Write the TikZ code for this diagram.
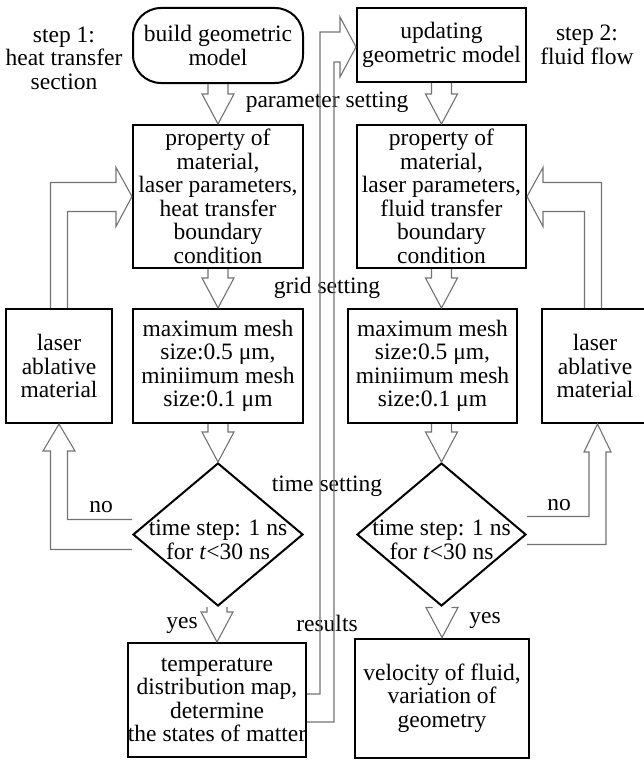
\documentclass[tikz,border=0pt]{standalone}
\usepackage{fontspec}
\setmainfont{Liberation Serif}
\usepackage{tikz}
\usetikzlibrary{shapes.geometric}
\newcommand\fs{\fontsize{23.5}{23.5}\selectfont}
\tikzset{box/.style={draw, line width=2pt, inner sep=0pt, align=center, font=\fs},
 term/.style={box, rounded corners=28pt},
 decision/.style={draw, diamond, line width=2pt, inner sep=0pt},
 hollow/.style={draw=black!55, line width=1.1pt, line join=miter},
 lbl/.style={align=center, inner sep=0pt, font=\fs},
 }
% fat hollow arrow pointing down, tip at #2
\newcommand\blockdown[2]{%
  \coordinate (bs) at (#2 |- #1);
  \draw [hollow] ([xshift=-10pt]bs) -- ([xshift=-10pt,yshift=30pt]#2) -- ([xshift=-16pt,yshift=30pt]#2) -- (#2)
    -- ([xshift=16pt,yshift=30pt]#2) -- ([xshift=10pt,yshift=30pt]#2) -- ([xshift=10pt]bs);}

\begin{document}
\begin{tikzpicture}[x=1pt,y=-1pt]
        \useasboundingbox (0,0) rectangle (644,760);
        % step 1
        \node [term, minimum width=170pt, minimum height=75pt] (start) at (218,45.5) {build geometric\\model};
        \node [box, minimum width=170pt, minimum height=143pt] (prop1) at (218,196.5) {property of\\material,\\laser parameters,\\heat transfer\\boundary\\condition};
        \node [box, minimum width=106pt, minimum height=114pt] (abl1) at (59,366) {laser\\ablative\\material};
        \node [box, minimum width=170pt, minimum height=114pt] (mesh1) at (218,366) {maximum mesh\\size:0.5 μm,\\miniimum mesh\\size:0.1 μm};
        \node [decision, minimum width=170pt, minimum height=143pt] (dec1) at (218,534.5) {};
        \node [lbl] (dec1t) at (218,540) {time step: 1 ns\\for \textit{t}<30 ns};
        \node [box, minimum width=174pt, minimum height=114pt] (res1) at (217,700) {temperature\\distribution map,\\determine\\the states of matter};
        % step 2
        \node [box, minimum width=169pt, minimum height=74pt] (upd) at (441.5,45) {updating\\geometric model};
        \node [box, minimum width=169pt, minimum height=143pt] (prop2) at (441.5,196.5) {property of\\material,\\laser parameters,\\fluid transfer\\boundary\\condition};
        \node [box, minimum width=169pt, minimum height=114pt] (mesh2) at (432.5,366) {maximum mesh\\size:0.5 μm,\\miniimum mesh\\size:0.1 μm};
        \node [box, minimum width=106pt, minimum height=114pt] (abl2) at (595,366) {laser\\ablative\\material};
        \node [decision, minimum width=169pt, minimum height=143pt] (dec2) at (441.5,534.5) {};
        \node [lbl] (dec2t) at (441.5,540) {time step: 1 ns\\for \textit{t}<30 ns};
        \node [box, minimum width=174pt, minimum height=119pt] (res2) at (442,698) {velocity of fluid,\\variation of\\geometry};
        % labels
        \node [lbl] (step1) at (64,58) {step 1:\\heat transfer\\section};
        \node [lbl] (step2) at (587,45) {step 2:\\fluid flow};
        \node [lbl] (lpar) at (327,102) {parameter setting};
        \node [lbl] (lgrid) at (327,288) {grid setting};
        \node [lbl] (ltime) at (327,486) {time setting};
        \node [lbl] (lres) at (327,623) {results};
        \node [lbl] (yes1) at (182,625) {yes};
        \node [lbl] (yes2) at (485,620) {yes};
        \node [lbl] (no1) at (101,507) {no};
        \node [lbl] (no2) at (559,505) {no};
        % straight arrows
        \blockdown{start.south}{prop1.north}
        \blockdown{prop1.south}{mesh1.north}
        \blockdown{mesh1.south}{dec1.north}
        \blockdown{dec1.south}{res1.north}
        \blockdown{upd.south}{prop2.north}
        \coordinate (m2top) at (prop2.south |- mesh2.north);
        \blockdown{prop2.south}{m2top}
        \blockdown{mesh2.south}{dec2.north}
        \blockdown{dec2.south}{res2.north}
        % loops
        \draw [hollow] ([xshift=-8.5pt]abl1.north) |- ([xshift=-16pt,yshift=14pt]prop1.west) -- ++(0,15pt) -- (prop1.west)
            -- ++(-16pt,-30pt) -- ++(0,15pt) -| ([xshift=8.5pt]abl1.north);
        \draw [hollow] ([yshift=15pt]dec1.west) -| ([xshift=8.5pt,yshift=-27pt]abl1.south) -- ++(7.5pt,0) -- (abl1.south)
            -- ++(-16pt,-27pt) -- ++(7.5pt,0) |- ([yshift=-15pt]dec1.west);
        \coordinate (a2) at ([xshift=-2pt]abl2.north);
        \draw [hollow] ([xshift=8.5pt]a2) |- ([xshift=16pt,yshift=14pt]prop2.east) -- ++(0,15pt) -- (prop2.east)
            -- ++(16pt,-30pt) -- ++(0,15pt) -| ([xshift=-8.5pt]a2);
        \coordinate (n2) at ([xshift=2.5pt]abl2.south);
        \draw [hollow] ([yshift=18pt]dec2.east) -| ([xshift=-8.5pt,yshift=-28pt]n2) -- ++(-5pt,0) -- (n2)
            -- ++(13.5pt,-28pt) -- ++(-5pt,0) |- ([yshift=-10pt]dec2.east);
        % results back to model
        \coordinate (rtip) at ([yshift=-2pt]upd.west);
        \draw [hollow] ([yshift=6pt]res1.east) -| ([xshift=-36pt,yshift=15pt]rtip) -- ++(20pt,0) -- ++(0,15pt) -- (rtip)
            -- ++(-16pt,-30pt) -- ++(0,15pt) -- ++(-6pt,0) |- ([yshift=-22pt]res1.east);
    \end{tikzpicture}
\end{document}
